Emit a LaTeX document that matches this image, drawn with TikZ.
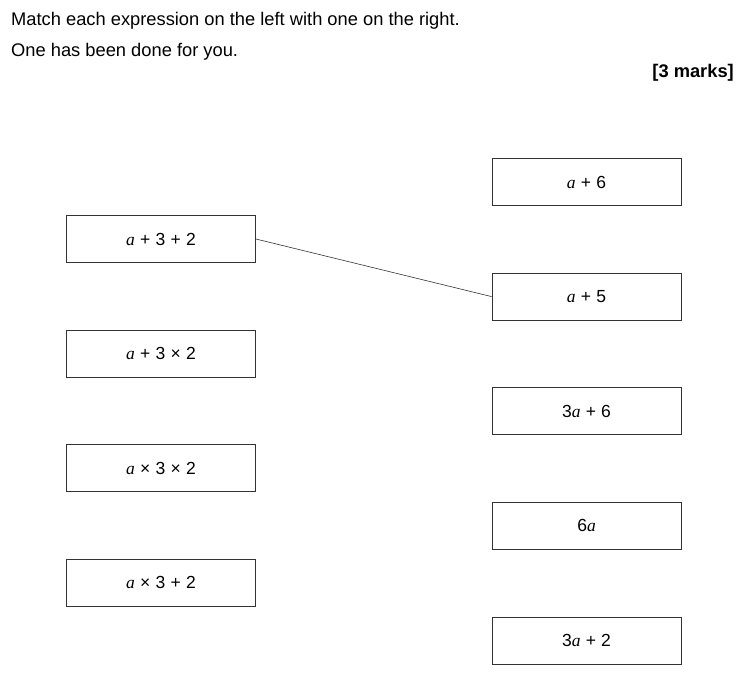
\documentclass[tikz,border=0pt]{standalone}
\usepackage{fontspec}
\setmainfont{Liberation Sans}
\newfontfamily\varfont{Liberation Serif}
\usetikzlibrary{positioning}
\newcommand{\va}{{\varfont\itshape a}}
\newcommand{\op}[1]{\hspace{0.3em}#1\hspace{0.3em}}
\tikzset{
 expr/.style={shape=rectangle,draw=black!80,line width=0.8pt,minimum width=189pt,minimum height=47pt,inner sep=0pt,font=\fontsize{17.5}{21}\selectfont},
 prompt/.style={anchor=base west,inner sep=0pt,font=\fontsize{18.3}{22}\selectfont}
}
\begin{document}
\begin{tikzpicture}[x=1pt,y=-1pt,node distance=114.6pt]
 \useasboundingbox (0,0) rectangle (738,689);
 \node[prompt] (title) at (11,25) {Match each expression on the left with one on the right.};
 \node[prompt] (note) at (11,56) {One has been done for you.};
 \node[prompt,anchor=base east,font=\fontsize{18.3}{22}\selectfont\bfseries] (marks) at (734,77) {[3 marks]};

 \node[expr] (l1) at (161,239) {\va\op{+}3\op{+}2};
 \node[expr] (l2) [below of=l1] {\va\op{+}3\op{\texttimes}2};
 \node[expr] (l3) [below of=l2] {\va\op{\texttimes}3\op{\texttimes}2};
 \node[expr] (l4) [below of=l3] {\va\op{\texttimes}3\op{+}2};

 \node[expr] (r1) at (586.5,182) {\va\op{+}6};
 \node[expr] (r2) [below of=r1] {\va\op{+}5};
 \node[expr] (r3) [below of=r2] {3\va\op{+}6};
 \node[expr] (r4) [below of=r3] {6\va};
 \node[expr] (r5) [below of=r4] {3\va\op{+}2};

 \draw (l1.east) [line width=0.6pt,black!80] -- (r2.west);
\end{tikzpicture}
\end{document}
